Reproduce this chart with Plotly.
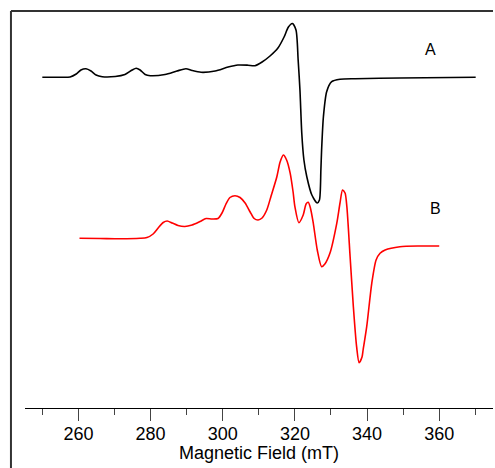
import plotly.graph_objects as go

# Spectrum A (black) - magnetic field (mT) and intensity (arb. units)
field_a = [250.0, 254.9, 257.7, 259.4, 260.7, 262.1, 263.5, 264.9, 266.6, 270.2,
           272.9, 274.9, 276.0, 277.1, 278.5, 279.9, 284.0, 287.3, 289.8, 291.5,
           294.0, 297.9, 301.5, 304.2, 307.0, 308.9, 310.9, 313.1, 315.3, 317.0,
           318.2, 319.3, 320.3, 320.9, 321.4, 321.9, 322.5, 323.3, 324.7, 326.2,
           326.8, 327.2, 327.4, 327.9, 328.8, 330.2, 332.5, 336.7, 349.1, 370.1]
signal_a = [0, 0, 0.3, 3.3, 7.3, 8.6, 6.3, 2.3, 0.6, 0.8,
            2.8, 7.3, 9.0, 7.3, 2.8, 1.6, 2.8, 6.3, 8.6, 6.8,
            5.0, 6.3, 10.3, 12.3, 12.1, 11.6, 15.3, 21.3, 29.3, 40.3,
            50.3, 53.8, 47.3, 17.3, -12.7, -55.7, -82.7, -99.4, -117.7, -125.7,
            -122.7, -92.7, -72.7, -39.4, -14.4, -4.4, -2.0, -1.4, -0.7, 0]

# Spectrum B (red)
field_b = [260.3, 266.0, 271.6, 277.1, 279.0, 280.7, 282.1, 283.5, 284.6, 286.0,
           287.6, 289.5, 291.5, 293.7, 295.4, 297.0, 298.7, 299.8, 300.9, 302.0,
           303.4, 304.8, 306.2, 307.6, 308.7, 309.8, 310.9, 312.2, 313.4, 315.0,
           315.9, 316.8, 317.7, 318.7, 319.5, 320.0, 321.1, 322.3, 323.1, 323.7,
           324.3, 325.1, 326.2, 327.4, 328.3, 329.7, 331.6, 332.5, 333.2, 333.9,
           334.4, 335.3, 336.2, 337.1, 337.8, 338.6, 338.9, 339.9, 341.3, 342.5,
           343.6, 345.0, 349.1, 354.7, 360.0]
signal_b = [0, -0.2, -0.5, 0, 0.8, 4.3, 10.3, 15.8, 17.3, 15.3,
            12.8, 11.8, 13.3, 16.8, 19.8, 19.3, 19.8, 25.3, 34.3, 40.8,
            42.6, 40.8, 35.3, 26.3, 19.8, 18.3, 20.3, 28.3, 42.3, 61.6,
            76.3, 83.3, 78.3, 65.0, 46.3, 31.6, 15.6, 23.3, 34.3, 36.0,
            30.3, 15.0, -11.7, -28.4, -25.7, -15.0, 15.0, 35.3, 48.3, 45.3,
            31.6, -18.4, -68.4, -108.4, -124.4, -118.7, -111.7, -88.4, -45.0, -21.7,
            -15.0, -11.7, -8.4, -7.7, -7.7]

offset_a = -77.3
offset_b = -238.3

major_ticks = [260, 280, 300, 320, 340, 360]
minor_ticks = [250, 270, 290, 310, 330, 350, 370]

fig = go.Figure()
fig.add_trace(go.Scatter(x=field_a, y=[v + offset_a for v in signal_a], mode="lines",
                         line=dict(color="black", width=1.6, shape="spline", smoothing=0.7),
                         showlegend=False, hoverinfo="skip"))
fig.add_trace(go.Scatter(x=field_b, y=[v + offset_b for v in signal_b], mode="lines",
                         line=dict(color="#ff0000", width=1.6, shape="spline", smoothing=0.7),
                         showlegend=False, hoverinfo="skip"))

label_font = dict(family="Liberation Sans", size=16, color="black")
fig.add_annotation(text="A", x=0.866, y=0.903, xref="paper", yref="paper",
                   xanchor="center", yanchor="middle", showarrow=False, font=label_font)
fig.add_annotation(text="B", x=0.878, y=0.503, xref="paper", yref="paper",
                   xanchor="center", yanchor="middle", showarrow=False, font=label_font)
fig.add_annotation(text="Magnetic Field (mT)", x=0.5, y=-0.1134, xref="paper", yref="paper",
                   xanchor="center", yanchor="middle", showarrow=False,
                   font=dict(family="Liberation Sans", size=18, color="black"))

# frame lines (top and left)
fig.add_shape(type="line", xref="paper", yref="paper", x0=-0.03, x1=1.0, y0=1.0, y1=1.0,
              line=dict(color="#333333", width=2))
fig.add_shape(type="line", xref="paper", yref="paper", x0=-0.03, x1=-0.03, y0=1.0, y1=-0.16,
              line=dict(color="#333333", width=2))

fig.update_layout(
    width=495, height=468,
    margin=dict(l=25, r=2, t=11, b=60),
    paper_bgcolor="white", plot_bgcolor="white",
    font=dict(family="Liberation Sans", color="black"),
    xaxis=dict(range=[245.2, 374.9], showline=True, linecolor="black", linewidth=1,
               showgrid=False, zeroline=False, ticks="outside", tickvals=major_ticks,
               ticklen=12, tickcolor="#444", tickwidth=1, ticklabelstandoff=-3,
               tickfont=dict(family="Liberation Sans", size=18, color="black"),
               minor=dict(tickvals=minor_ticks, ticks="outside", ticklen=6, tickcolor="#444", tickwidth=1),
               automargin=False),
    yaxis=dict(visible=False, range=[-408, -11]),
)

fig.write_html("out.html", config={"displayModeBar": False},
               post_script="document.body.style.margin='0';document.body.style.overflow='hidden';")
